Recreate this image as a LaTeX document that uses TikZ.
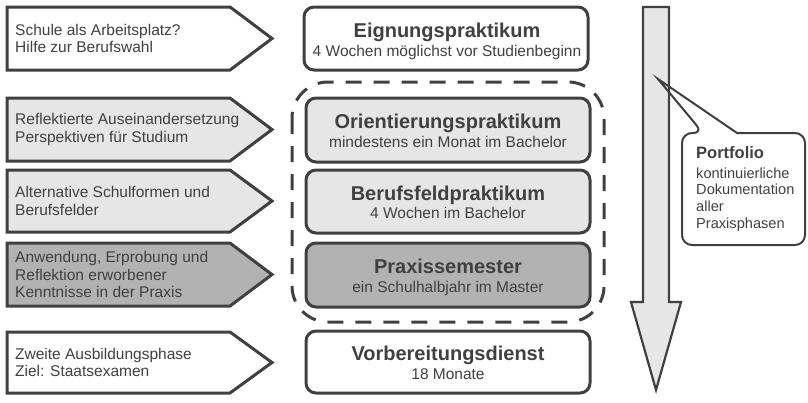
\documentclass[tikz,border=0pt]{standalone}
\usepackage{fontspec}
\setmainfont{Liberation Sans}
\definecolor{dk}{HTML}{404040}
\definecolor{lg}{HTML}{E6E6E6}
\definecolor{mg}{HTML}{B2B2B2}
\tikzset{
  pent/.style={draw=dk, line width=3pt, line join=miter},
  ltext/.style={anchor=west, align=left, text=dk, font=\fontsize{15.5}{17.3}\selectfont, inner sep=0pt},
  rbox/.style={draw=dk, line width=3pt, rounded corners=10pt},
  ttext/.style={anchor=base, text=dk, inner sep=0pt, font=\fontsize{20}{22}\selectfont\bfseries},
  stext/.style={anchor=base, text=dk, inner sep=0pt, font=\fontsize{15.5}{17}\selectfont},
  ptext/.style={anchor=base west, text=dk, inner sep=0pt, font=\fontsize{14.6}{16}\selectfont},
}
\newcommand\pentpath[3]{\draw[pent, fill=#3] (7,#1) -- (230,#1) -- (272,{(#1+#2)/2}) -- (230,#2) -- (7,#2) -- cycle;}
\begin{document}
\begin{tikzpicture}[x=1pt,y=-1pt]
\useasboundingbox (0,0) rectangle (808,402);
% left pentagons
\pentpath{7}{70}{white}
\pentpath{98}{161}{lg}
\pentpath{170}{232}{lg}
\pentpath{243}{306}{mg}
\pentpath{332}{393}{white}
\node[ltext] (l1) at (15,38.5) {Schule als Arbeitsplatz?\\Hilfe zur Berufswahl};
\node[ltext] (l2) at (15,129.5) {Reflektierte Auseinandersetzung\\Perspektiven für Studium};
\node[ltext] (l3) at (15,201) {Alternative Schulformen und\\Berufsfelder};
\node[ltext] (l4) at (15,274.5) {Anwendung, Erprobung und\\Reflektion erworbener\\Kenntnisse in der Praxis};
\node[ltext] (l5) at (15,362.5) {Zweite Ausbildungsphase\\Ziel: Staatsexamen};
% dashed group
\draw[dk, line width=3pt, dash pattern=on 16pt off 12pt, rounded corners=36pt] (292,82) rectangle (604,322);
% middle boxes
\draw[rbox, fill=white] (304,7) rectangle (588,70);
\draw[rbox, fill=lg] (306,98) rectangle (590,162);
\draw[rbox, fill=lg] (306,170) rectangle (590,233);
\draw[rbox, fill=mg] (306,243) rectangle (590,307);
\draw[rbox, fill=white] (306,331) rectangle (590,393);
\node[ttext] (t1) at (447,37) {Eignungspraktikum};
\node[stext] (s1) at (447,56) {4 Wochen möglichst vor Studienbeginn};
\node[ttext] (t2) at (448,128.5) {Orientierungspraktikum};
\node[stext] (s2) at (448,147) {mindestens ein Monat im Bachelor};
\node[ttext] (t3) at (448,200) {Berufsfeldpraktikum};
\node[stext] (s3) at (448,218.5) {4 Wochen im Bachelor};
\node[ttext] (t4) at (448,273.5) {Praxissemester};
\node[stext] (s4) at (448,292) {ein Schulhalbjahr im Master};
\node[ttext] (t5) at (448,360.5) {Vorbereitungsdienst};
\node[stext] (s5) at (448,379) {18 Monate};
% callout fill
\fill[white] (703,133) -- (658,79) -- (737,133) [rounded corners=10pt] -- (805,133) -- (805,245) -- (682,245) -- (682,133) -- cycle;
% big arrow
\draw[dk, fill=lg, line width=2.2pt, line join=miter] (643,7) -- (669,7) -- (669,302) -- (681,302) -- (656,390) -- (631,302) -- (643,302) -- cycle;
% callout outline
\draw[dk, line width=2pt, line join=miter] (703,133) -- (658,79) -- (737,133) [rounded corners=10pt] -- (805,133) -- (805,245) -- (682,245) -- (682,133) -- cycle;
\node[ptext, font=\fontsize{16.5}{18}\selectfont\bfseries] (p0) at (696,158) {Portfolio};
\node[ptext] (p1) at (696,178) {kontinuierliche};
\node[ptext] (p2) at (696,194.7) {Dokumentation};
\node[ptext] (p3) at (696,211.3) {aller};
\node[ptext] (p4) at (696,228) {Praxisphasen};
\end{tikzpicture}
\end{document}
